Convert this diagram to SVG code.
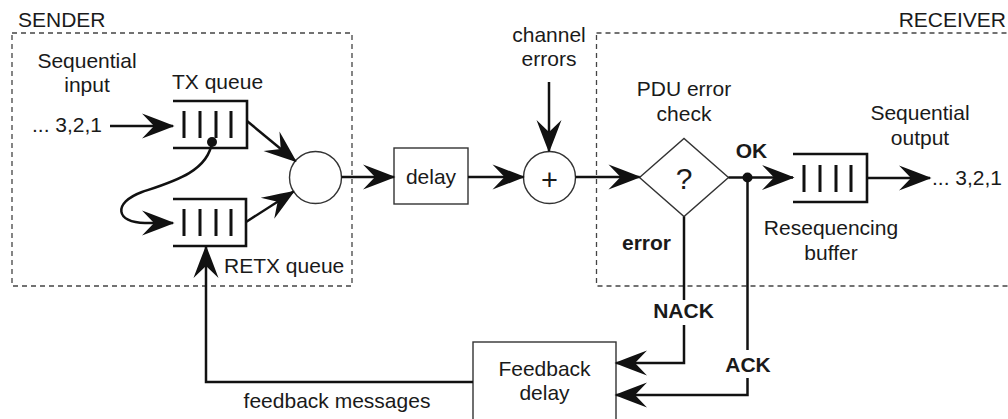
<svg xmlns="http://www.w3.org/2000/svg" width="1008" height="419" viewBox="0 0 1008 419">
<style>
text{font-family:"Liberation Sans",Arial,Helvetica,sans-serif;font-size:21px;fill:#1a1a1a}
.b{font-weight:bold}
.m{text-anchor:middle}
.zone{fill:none;stroke:#444;stroke-width:1.3;stroke-dasharray:5 4}
.shape{fill:#fff;stroke:#333;stroke-width:1.4}
.q{fill:none;stroke:#111;stroke-width:2.6}
.bar{stroke:#111;stroke-width:3}
.c{fill:none;stroke:#111;stroke-width:2.5;marker-end:url(#ah)}
.cn{fill:none;stroke:#111;stroke-width:2.5}
</style>
<defs>
<marker id="ah" markerUnits="userSpaceOnUse" markerWidth="34" markerHeight="28" viewBox="-32 -14 34 28" refX="0" refY="0" orient="auto" overflow="visible">
<path d="M1.5,0 Q-11,-5 -31,-12.5 L-19,0 L-31,12.5 Q-11,5 1.5,0 Z" fill="#111"/>
</marker>
</defs>

<g id="sender">
<rect class="zone" x="12" y="33" width="340" height="253"/>
<text x="18" y="27">SENDER</text>
</g>
<g id="receiver">
<rect class="zone" x="596.5" y="33" width="430" height="253"/>
<text x="1006" y="27" style="text-anchor:end">RECEIVER</text>
</g>

<g id="input">
<text class="m" x="87" y="68">Sequential</text>
<text class="m" x="87" y="92">input</text>
<text x="32" y="132">... 3,2,1</text>
</g>

<g id="tx-queue">
<path class="q" d="M173,101 H247 V148 H173"/>
<path class="bar" d="M184,111 V138 M200,111 V138 M216,111 V138 M231,111 V138"/>
<text x="172" y="89">TX queue</text>
</g>

<g id="retx-queue">
<path class="q" d="M173,199 H246 V246 H173"/>
<path class="bar" d="M184,209 V236 M200,209 V236 M216,209 V236 M231,209 V236"/>
<text x="224" y="273">RETX queue</text>
</g>

<g id="mux">
<circle class="shape" cx="315.5" cy="177.5" r="26"/>
</g>

<g id="delay">
<rect class="shape" x="394" y="148" width="74" height="56"/>
<text class="m" x="431" y="184">delay</text>
</g>

<g id="adder">
<circle class="shape" cx="549.5" cy="177.5" r="26"/>
<text class="m" x="549.5" y="190" style="font-size:29px">+</text>
<text class="m" x="549" y="42">channel</text>
<text class="m" x="549" y="66">errors</text>
</g>

<g id="check">
<path class="shape" d="M639.5,177.5 L684,138.5 L728.5,177.5 L684,216.5 Z"/>
<text class="m" x="684" y="188.5" style="font-size:30px">?</text>
<text class="m" x="684" y="96">PDU error</text>
<text class="m" x="684" y="121">check</text>
</g>

<g id="reseq-buffer">
<path class="q" d="M793,154 H867 V202 H793"/>
<path class="bar" d="M804,165 V192 M820,165 V192 M836,165 V192 M851,165 V192"/>
<text class="m" x="831" y="235">Resequencing</text>
<text class="m" x="831" y="260">buffer</text>
</g>

<g id="output">
<text class="m" x="920" y="120">Sequential</text>
<text class="m" x="920" y="145">output</text>
<text x="932" y="185">... 3,2,1</text>
</g>

<g id="feedback-delay">
<rect class="shape" x="473" y="342" width="143" height="82"/>
<text class="m" x="544.5" y="376">Feedback</text>
<text class="m" x="544.5" y="400">delay</text>
</g>

<g id="connectors">
<path class="c" d="M110,126 H173"/>
<path class="c" d="M247,121 L295.4,161"/>
<path class="c" d="M246,222 L293.6,191.5"/>
<path class="c" d="M212,142 C208,172 172,182 142,192 C112,203 116,223 145,223 L173,223"/>
<circle cx="212" cy="142" r="5" fill="#111"/>
<path class="c" d="M341.5,177 H394"/>
<path class="c" d="M468,177 H523.5"/>
<path class="c" d="M549,82 V151"/>
<path class="c" d="M575.5,177 H639.5"/>
<path class="c" d="M728.5,177.5 H793"/>
<circle cx="747.5" cy="177.5" r="5" fill="#111"/>
<path class="c" d="M867,178 H930"/>
<path class="cn" d="M684,216.5 V300"/>
<path class="c" d="M684,325 V363 H616"/>
<path class="cn" d="M747.5,177.5 V350"/>
<path class="c" d="M747.5,378 V395 H616"/>
<path class="c" d="M473,382 H206 V247"/>
<text class="b" x="671" y="250" style="text-anchor:end">error</text>
<text class="b m" x="751.5" y="158">OK</text>
<text class="b m" x="683.5" y="318">NACK</text>
<text class="b m" x="748" y="372">ACK</text>
<text class="m" x="337" y="408">feedback messages</text>
</g>
</svg>
